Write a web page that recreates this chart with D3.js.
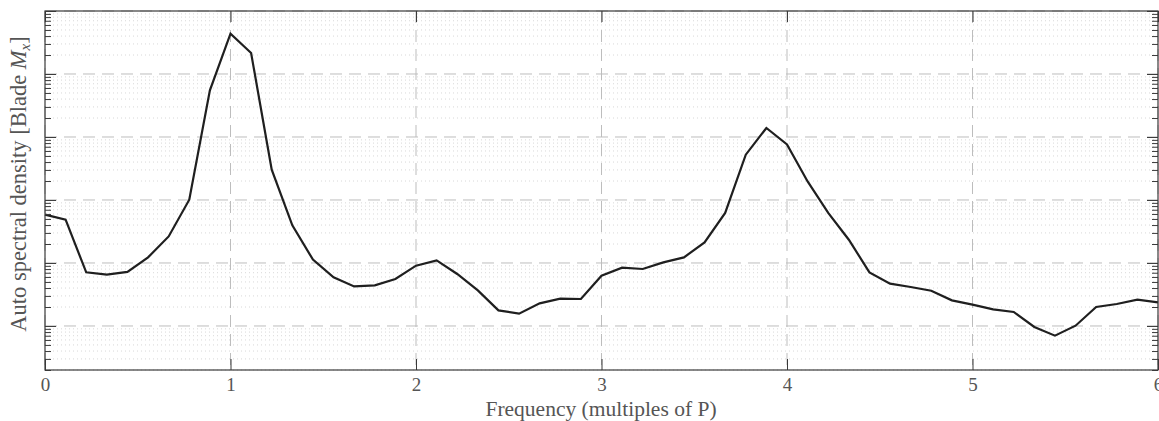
<!DOCTYPE html>
<html>
<head>
<meta charset="utf-8">
<script src="https://cdn.jsdelivr.net/npm/d3@7/dist/d3.min.js"></script>
<style>
  html, body { margin: 0; padding: 0; background: #fff; }
  svg { display: block; }
</style>
</head>
<body>
<svg id="chart" width="1159" height="421"></svg>
<script>
// Frequency in multiples of P (step 1/9)
const freqStepDen = 9;
const psdValues = [
  0.585, 0.486, 0.0710, 0.0652, 0.0720, 0.1227, 0.264, 1.01, 55.0, 436,
  215, 3.03, 0.395, 0.113, 0.0591, 0.0425, 0.0441, 0.0557, 0.0906, 0.110,
  0.0669, 0.0367, 0.0177, 0.0157, 0.0229, 0.0271, 0.0268, 0.0629, 0.0842, 0.0803,
  0.102, 0.1227, 0.212, 0.622, 5.24, 13.9, 7.63, 1.97, 0.622, 0.234,
  0.0710, 0.0469, 0.0416, 0.0363, 0.0255, 0.0218, 0.0183, 0.0167, 0.00964, 0.00702,
  0.0101, 0.0200, 0.0223, 0.0261, 0.0237
];
const freqValues = psdValues.map((_, i) => i / freqStepDen);
const xTickValues = [0, 1, 2, 3, 4, 5, 6];
const xTickLabels = ["0", "1", "2", "3", "4", "5", "6"];
const yDomain = [0.002, 1000];
const xLabel = "Frequency (multiples of P)";
const yLabelMain = "Auto spectral density [Blade ";

const svg = d3.select("#chart");
const m = { left: 45, right: 1, top: 11, bottom: 51 };
const W = 1159, H = 421;
const x = d3.scaleLinear().domain([0, 6]).range([m.left, W - m.right]);
const y = d3.scaleLog().domain(yDomain).range([H - m.bottom, m.top]);

const x0 = x.range()[0], x1 = x.range()[1];
const yb = y.range()[0], yt = y.range()[1];

const majorY = [];
const minorY = [];
for (let e = -3; e <= 3; e++) {
  for (let k = 1; k <= 9; k++) {
    const v = k * Math.pow(10, e);
    if (v < yDomain[0] * 0.999 || v > yDomain[1] * 1.001) continue;
    if (k === 1) majorY.push(v); else minorY.push(v);
  }
}

const grid = svg.append("g");
grid.selectAll("line.ymin").data(minorY).enter().append("line")
  .attr("x1", x0).attr("x2", x1)
  .attr("y1", d => y(d)).attr("y2", d => y(d))
  .attr("stroke", "#d8d8d8").attr("stroke-width", 1)
  .attr("stroke-dasharray", "1,3");
grid.selectAll("line.ymaj").data(majorY).enter().append("line")
  .attr("x1", x0).attr("x2", x1)
  .attr("y1", d => y(d)).attr("y2", d => y(d))
  .attr("stroke", "#bdbdbd").attr("stroke-width", 1)
  .attr("stroke-dasharray", "12,7");
grid.selectAll("line.xmaj").data(xTickValues).enter().append("line")
  .attr("x1", d => x(d)).attr("x2", d => x(d))
  .attr("y1", yt).attr("y2", yb)
  .attr("stroke", "#bdbdbd").attr("stroke-width", 1)
  .attr("stroke-dasharray", "12,7");

const line = d3.line().x((d, i) => x(freqValues[i])).y(d => y(d));
svg.append("path").datum(psdValues)
  .attr("d", line).attr("fill", "none")
  .attr("stroke", "#1f1f1f").attr("stroke-width", 2.2)
  .attr("stroke-linejoin", "miter");

const axisColor = "#3a3a3a";
const font = "'Liberation Serif', 'DejaVu Serif', serif";
const bottomAxis = d3.axisBottom(x).tickValues(xTickValues)
  .tickFormat((d, i) => xTickLabels[i]).tickSizeInner(-11).tickSizeOuter(0).tickPadding(8);
const gB = svg.append("g").attr("transform", `translate(0,${yb})`).call(bottomAxis);
const topAxis = d3.axisTop(x).tickValues(xTickValues).tickFormat("")
  .tickSizeInner(-11).tickSizeOuter(0);
const gT = svg.append("g").attr("transform", `translate(0,${yt})`).call(topAxis);

const leftMajor = d3.axisLeft(y).tickValues(majorY).tickFormat("").tickSizeInner(-11).tickSizeOuter(0);
const leftMinor = d3.axisLeft(y).tickValues(minorY).tickFormat("").tickSizeInner(-6).tickSizeOuter(0);
const rightMajor = d3.axisRight(y).tickValues(majorY).tickFormat("").tickSizeInner(-11).tickSizeOuter(0);
const rightMinor = d3.axisRight(y).tickValues(minorY).tickFormat("").tickSizeInner(-6).tickSizeOuter(0);
const gL1 = svg.append("g").attr("transform", `translate(${x0},0)`).call(leftMajor);
const gL2 = svg.append("g").attr("transform", `translate(${x0},0)`).call(leftMinor);
const gR1 = svg.append("g").attr("transform", `translate(${x1},0)`).call(rightMajor);
const gR2 = svg.append("g").attr("transform", `translate(${x1},0)`).call(rightMinor);

[gB, gT, gL1, gL2, gR1, gR2].forEach(g => {
  g.selectAll(".domain").remove();
  g.selectAll(".tick line").attr("stroke", axisColor).attr("stroke-width", 1);
});
gB.selectAll(".tick text").attr("fill", "#555").attr("font-family", font)
  .attr("font-size", 19);

svg.append("rect").attr("x", x0).attr("y", yt)
  .attr("width", x1 - x0).attr("height", yb - yt)
  .attr("fill", "none").attr("stroke", axisColor).attr("stroke-width", 1.2);

svg.append("text").attr("x", 601).attr("y", 416)
  .attr("text-anchor", "middle").attr("fill", "#555")
  .attr("font-family", font).attr("font-size", 21.5).text(xLabel);

const yl = svg.append("text")
  .attr("transform", `translate(26,184) rotate(-90)`)
  .attr("text-anchor", "middle").attr("fill", "#555")
  .attr("font-family", font).attr("font-size", 22.5);
yl.append("tspan").text(yLabelMain);
yl.append("tspan").attr("font-style", "italic").text("M");
yl.append("tspan").attr("font-style", "italic").attr("font-size", 15).attr("dy", 4).text("x");
yl.append("tspan").attr("dy", -4).text("]");
</script>
</body>
</html>
